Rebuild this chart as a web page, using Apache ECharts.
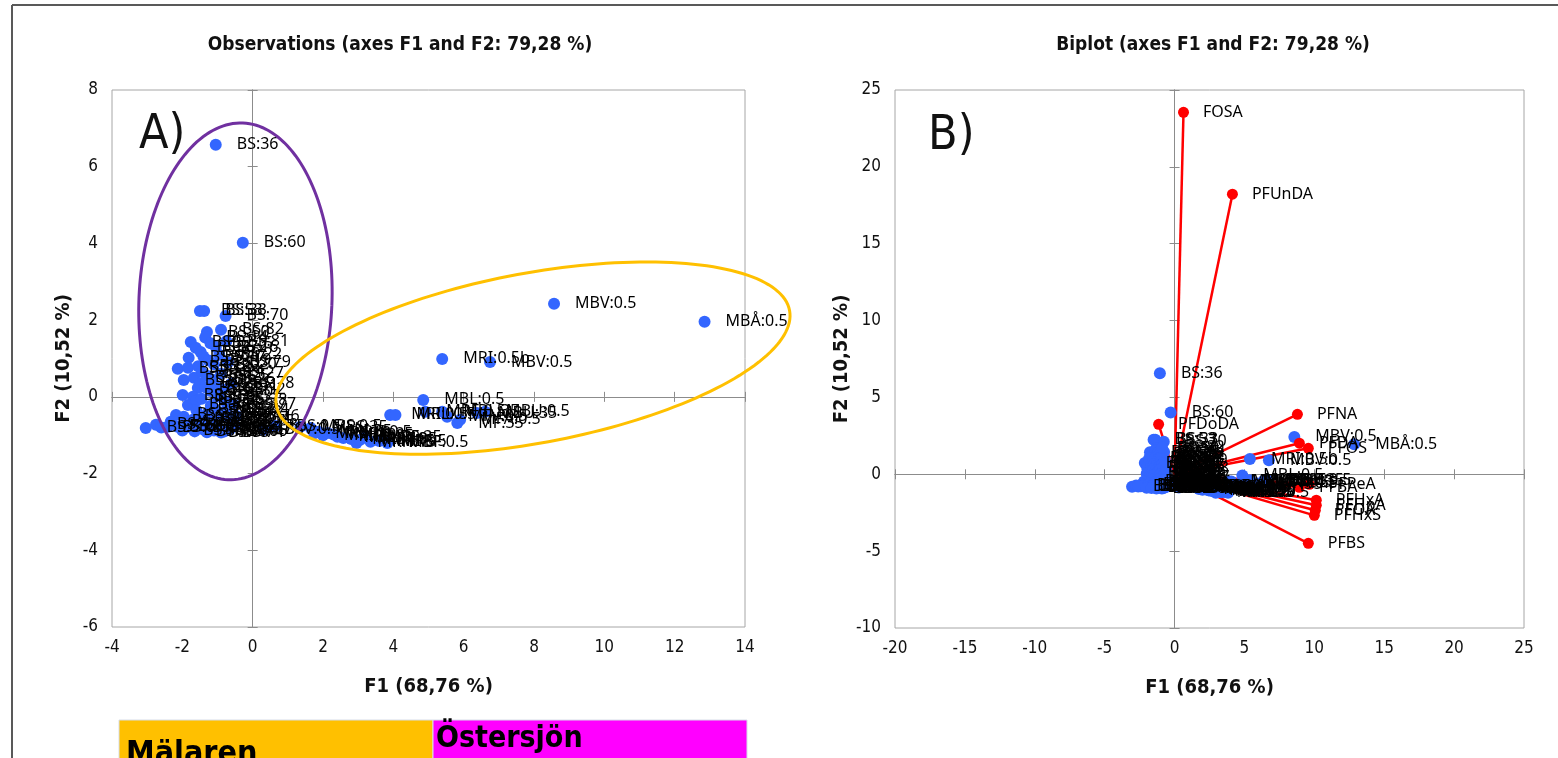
<!DOCTYPE html>
<html><head><meta charset="utf-8">
<script src="https://cdn.jsdelivr.net/npm/echarts@6/dist/echarts.min.js"></script>
<style>html,body{margin:0;padding:0;background:#fff}#c{width:1558px;height:758px}</style>
</head><body><div id="c"></div>
<script>
// ---- data ----
const obsNames = [
 'BS:36','BS:60','BS:53','BS:33','BS:70','BS:50','BS:52','BS:572','BS:57','BS:571',
 'BS:13','BS:18','BS:21','BS:56','BS:61','BS:9','BS:69','BS:45','BS:3','BS:7',
 'BS:2','BS:11','BS:1','BS:39','BS:40','BSV:0.5','BS:0.5','BS:5','BS:4','BS:6',
 'BS:14','BS:15','BS:16','BS:17','BS:19','BS:20','BS:22','BS:23','BS:24','BS:25',
 'BS:26','BS:27','BS:28','BS:29','BS:30','BS:31','BS:32','BS:34','BS:35','BS:37',
 'BS:38','BS:41','BS:42','BS:43','BS:44','BS:46','BS:47','BS:48','BS:49','BS:51',
 'BS:54','BS:55','BS:58','BS:59','BS:62','BS:63','BS:64','BS:65','BS:66','BS:67',
 'BS:68','BS:71','BS:72','BS:73','BS:74','BS:75','BS:76','BS:77','BS:78','BS:79',
 'BS:81','BS:82',
 'MRS:0.5','MRS:35','MRS:19','MRI:35','MRI:19','MRH:0.5','MRH:35','MRL:35','MRL:19','MRF:19',
 'MRH:19','MBF:35','MRF:35','MRI:5','MRL:5','MBF:0.5','MRI:0.5','MRL:0.5','MBL:0.5','MRF:0.5',
 'MBL:35','MFV:0.5','MF:35','MFA:0.5','MBU:35','MBU:0.5','MRI:0.5b','MBV:0.5','MBV:0.5','MBÅ:0.5'
];
const obsX = [
 -1.05,-0.28,-1.50,-1.38,-0.77,-1.30,-1.76,-1.62,-1.48,-1.82,
 -2.13,-1.84,-1.96,-1.67,-1.56,-1.99,-1.70,-1.84,-2.18,-1.96,
 -2.33,-2.13,-2.41,-1.19,-1.28,0.31,0.65,-3.04,-2.75,-2.60,
 -1.35,-1.20,-1.05,-1.40,-1.25,-1.10,-0.95,-1.55,-1.45,-1.30,
 -1.15,-0.90,-1.50,-1.35,-1.20,-1.05,-0.85,-1.60,-1.45,-1.00,
 -0.80,-1.60,-1.10,-0.95,-0.75,-1.70,-1.50,-1.35,-1.15,-0.95,
 -0.70,-1.90,-1.75,-1.55,-1.40,-1.25,-1.10,-0.95,-0.80,-0.65,
 -0.50,-2.00,-1.65,-1.30,-0.90,-0.60,-0.45,-0.55,-0.60,-0.70,
 -0.75,-0.90,
 1.36,1.65,1.75,1.87,2.00,2.13,2.30,2.41,2.58,2.80,
 2.95,3.06,3.20,3.35,3.60,3.83,3.91,4.06,4.85,4.91,
 5.39,5.53,5.82,5.90,6.38,6.61,5.39,6.75,8.57,12.85
];
const obsY = [
 6.57,4.02,2.24,2.24,2.11,1.69,1.43,1.28,1.17,1.02,
 0.73,0.76,0.44,0.50,0.23,0.05,0.00,-0.21,-0.47,-0.52,
 -0.65,-0.78,-0.78,-0.23,-0.42,-0.86,-0.76,-0.81,-0.73,-0.80,
 1.55,1.40,1.30,1.05,0.95,0.85,1.10,0.80,0.65,0.55,
 0.45,0.60,0.35,0.25,0.15,0.30,0.20,-0.10,-0.05,0.00,
 -0.10,-0.35,-0.30,-0.40,-0.35,-0.60,-0.55,-0.65,-0.60,-0.55,
 -0.55,-0.75,-0.80,-0.78,-0.85,-0.80,-0.88,-0.82,-0.90,-0.85,
 -0.75,-0.88,-0.90,-0.92,-0.93,-0.65,-0.50,-0.20,0.35,0.90,
 1.45,1.75,
 -0.78,-0.81,-0.95,-0.91,-1.00,-0.94,-0.98,-1.04,-1.07,-1.10,
 -1.20,-1.12,-1.05,-1.17,-1.15,-1.20,-0.47,-0.47,-0.08,-0.39,
 -0.39,-0.52,-0.68,-0.60,-0.42,-0.39,0.99,0.91,2.43,1.96
];
const varNames = ['FOSA','PFUnDA','PFNA','PFDoDA','PFDA','PFOS','PFPeA','PFBA','PFHxA','PFHpA','PFOA','PFHxS','PFBS'];
const varX = [0.64,4.14,8.79,-1.14,8.93,9.57,9.64,8.93,10.14,10.14,10.07,10.00,9.57];
const varY = [23.55,18.22,3.90,3.25,2.02,1.69,-0.65,-0.85,-1.69,-2.02,-2.34,-2.67,-4.49];

const ticksAx = [-4,-2,0,2,4,6,8,10,12,14];
const ticksAy = [-6,-4,-2,0,2,4,6,8];
const ticksBx = [-20,-15,-10,-5,0,5,10,15,20,25];
const ticksBy = [-10,-5,0,5,10,15,20,25];

const titleA = 'Observations (axes F1 and F2: 79,28 %)';
const titleB = 'Biplot (axes F1 and F2: 79,28 %)';
const nameX = 'F1 (68,76 %)';
const nameY = 'F2 (10,52 %)';

// ---- chart ----
const NARROW = '"Liberation Sans Narrow","DejaVu Sans Condensed","Roboto Condensed","Liberation Sans",sans-serif';
const LABELF = '"Noto Sans","Open Sans",sans-serif';
const chart = echarts.init(document.getElementById('c'), null, {renderer:'canvas'});

function rng(t){ return {min:t[0], max:t[t.length-1], interval:t[1]-t[0]}; }

function axes(grid, ticks, pos, isX, otherIdx, nameGap){
  const r = rng(ticks);
  const base = {gridIndex:grid, type:'value', min:r.min, max:r.max, interval:r.interval, position:pos, splitLine:{show:false}};
  return [
    Object.assign({}, base, {
      axisLine:{show:false, onZero:false}, axisTick:{show:false},
      axisLabel:{fontSize:17, color:'#111', fontFamily:NARROW, margin: isX?12:14},
      name: isX?nameX:nameY, nameLocation:'middle', nameGap:nameGap,
      nameTextStyle:{fontSize:20, fontWeight:'bold', color:'#111', fontFamily:NARROW}
    }),
    Object.assign({}, base, {
      axisLine:{show:true, onZero:true, onZeroAxisIndex:otherIdx, lineStyle:{color:'#8c8c8c', width:1}},
      axisTick:{show:true, length:5, lineStyle:{color:'#8c8c8c'}}, axisLabel:{show:false}
    }),
    Object.assign({}, base, {
      axisLine:{show:true, onZero:true, onZeroAxisIndex:otherIdx, lineStyle:{color:'#8c8c8c', width:1}},
      axisTick:{show:true, inside:true, length:5, lineStyle:{color:'#8c8c8c'}}, axisLabel:{show:false}
    })
  ];
}

const obsData = obsNames.map((n,i)=>({name:n, value:[obsX[i], obsY[i]]}));
const varData = varNames.map((n,i)=>({name:n, value:[varX[i], varY[i]]}));
const vecData = varNames.map((n,i)=>({coords:[[0,0],[varX[i], varY[i]]]}));

const obsLabel = {show:true, position:'right', distance:15, formatter:'{b}', fontSize:16, color:'#000', fontFamily:LABELF};

chart.setOption({
  animation:false,
  backgroundColor:'#fff',
  grid:[
    {left:112, top:90, width:633, height:537, show:true, borderColor:'#a6a6a6', borderWidth:1, backgroundColor:'transparent'},
    {left:895, top:90, width:629, height:538, show:true, borderColor:'#a6a6a6', borderWidth:1, backgroundColor:'transparent'}
  ],
  xAxis: [].concat(axes(0, ticksAx, 'bottom', true, 0, 50), axes(1, ticksBx, 'bottom', true, 3, 50)),
  yAxis: [].concat(axes(0, ticksAy, 'left', false, 0, 38), axes(1, ticksBy, 'left', false, 3, 38)),
  series:[
    {type:'scatter', xAxisIndex:0, yAxisIndex:0, data:obsData, symbolSize:12,
     itemStyle:{color:'#3366ff', opacity:1}, label:obsLabel, emphasis:{disabled:true}},
    {type:'scatter', xAxisIndex:3, yAxisIndex:3, data:obsData, symbolSize:12,
     itemStyle:{color:'#3366ff', opacity:1}, label:obsLabel, emphasis:{disabled:true}},
    {type:'lines', coordinateSystem:'cartesian2d', xAxisIndex:3, yAxisIndex:3, data:vecData,
     lineStyle:{color:'#ff0000', width:2.5, opacity:1, curveness:0}, silent:true},
    {type:'scatter', xAxisIndex:3, yAxisIndex:3, data:varData, symbolSize:11,
     itemStyle:{color:'#ff0000', opacity:1},
     label:{show:true, position:'right', distance:14, formatter:'{b}', fontSize:16, color:'#000', fontFamily:LABELF},
     emphasis:{disabled:true}}
  ]
});

// ---- annotations ----
function ellipsePts(cx, cy, a, b, deg){
  const th = deg*Math.PI/180, pts=[];
  for(let k=0;k<=180;k++){
    const t = k/180*2*Math.PI;
    const ex=a*Math.cos(t), ey=b*Math.sin(t);
    pts.push([cx+ex*Math.cos(th)-ey*Math.sin(th), cy+ex*Math.sin(th)+ey*Math.cos(th)]);
  }
  return pts;
}
const pc = chart.convertToPixel({xAxisIndex:0, yAxisIndex:0}, [-0.49, 2.49]);
const oc = chart.convertToPixel({xAxisIndex:0, yAxisIndex:0}, [7.97, 1.01]);

chart.setOption({
  graphic:[
    {type:'line', shape:{x1:12, y1:5, x2:1558, y2:5}, style:{stroke:'#595959', lineWidth:2}, silent:true},
    {type:'line', shape:{x1:12, y1:5, x2:12, y2:758}, style:{stroke:'#595959', lineWidth:2}, silent:true},
    {type:'polyline', shape:{points:ellipsePts(pc[0], pc[1], 96.5, 178.5, 2.4)}, style:{stroke:'#7030a0', lineWidth:3, fill:null}, silent:true, z:10},
    {type:'polyline', shape:{points:ellipsePts(oc[0], oc[1], 261, 85, -10.5)}, style:{stroke:'#ffc000', lineWidth:3, fill:null}, silent:true, z:10},
    {type:'text', style:{text:titleA, x:400, y:45, align:'center', verticalAlign:'middle', font:'bold 19px '+NARROW, fill:'#111'}},
    {type:'text', style:{text:titleB, x:1213, y:45, align:'center', verticalAlign:'middle', font:'bold 19px '+NARROW, fill:'#111'}},
    {type:'text', style:{text:'A)', x:139, y:136, align:'left', verticalAlign:'middle', font:'48px '+NARROW, fill:'#111'}},
    {type:'text', style:{text:'B)', x:928, y:137, align:'left', verticalAlign:'middle', font:'48px '+NARROW, fill:'#111'}},
    {type:'rect', shape:{x:119, y:720, width:314, height:40}, style:{fill:'#ffc000', stroke:'#d6dde8', lineWidth:1}},
    {type:'rect', shape:{x:433, y:720, width:314, height:40}, style:{fill:'#ff00ff', stroke:'#d6dde8', lineWidth:1}},
    {type:'text', style:{text:'Mälaren', x:126, y:739, align:'left', verticalAlign:'top', font:'bold 32px '+NARROW, fill:'#000'}},
    {type:'text', style:{text:'Östersjön', x:436, y:724, align:'left', verticalAlign:'top', font:'bold 30px '+NARROW, fill:'#000'}}
  ]
});
</script></body></html>
